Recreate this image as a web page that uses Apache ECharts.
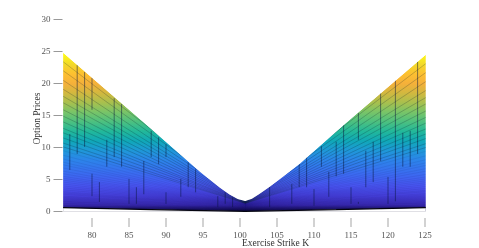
<!DOCTYPE html>
<html><head><meta charset="utf-8">
<style>html,body{margin:0;padding:0;background:#fff}#c{width:479px;height:248px}</style>
<script src="https://cdn.jsdelivr.net/npm/echarts@6/dist/echarts.min.js"></script>
</head><body><div id="c"></div>
<script>
const xTicks = [80,85,90,95,100,105,110,115,120,125];
const yTicks = [0,5,10,15,20,25,30];

// upper silhouette of the surface
const envelopeK = [76.1,81.1,87.2,94.6,97.3,98.6,99.7,100.7,101.6,102.7,104.05,106.1,108.1,114.2,125.1];
const envelopeV = [24.8,19.8,13.7,6.2,3.7,2.65,1.95,1.65,2.0,2.8,3.9,5.7,7.5,13.7,24.5];

// lower edge of the surface
const lowerK = [76.1,88,100.7,113,125.1];
const lowerV = [0.6,0.3,0.02,0.3,0.6];

// mesh curves, read at the left edge, the dip and the right edge
const meshK = [76.1,100.7,125.1];
const meshLeft = [23.4,22.0,20.5,19.1,18.0,17.0,15.9,14.9,14.0,13.0,12.3,11.5,10.7,10.1,9.5,8.8,8.2,7.7,7.3,6.8,6.3,5.9,5.5,5.2,4.9,4.6,4.3,4.0,3.7,3.4,3.1,2.9,2.7,2.4,2.2,2.0,1.8,1.6,1.5,1.3,1.2,1.0,0.9,0.7];
const meshDip = [1.6,1.58,1.55,1.52,1.5,1.48,1.45,1.42,1.4,1.37,1.35,1.32,1.3,1.27,1.25,1.22,1.2,1.17,1.15,1.12,1.1,1.07,1.05,1.02,1.0,.97,.94,.91,.88,.85,.82,.78,.74,.7,.66,.62,.57,.52,.47,.42,.36,.3,.22,.14];
const meshRight = [23.1,21.7,20.3,18.9,17.8,16.8,15.7,14.7,13.8,12.9,12.1,11.4,10.6,10.0,9.4,8.7,8.1,7.6,7.2,6.7,6.3,5.8,5.4,5.1,4.8,4.5,4.2,3.9,3.6,3.3,3.1,2.8,2.6,2.4,2.2,2.0,1.8,1.6,1.4,1.3,1.1,1.0,0.8,0.7];

// dark vertical mesh strokes: strike, low, high
const spikeK  = [77,78,79,80,80,81,82,83,84,85,86,87,88,89,90,90,92,93,94,97,98,99,104,107,108,109,110,111,112,113,114,115,116,116,117,118,119,120,121,122,123,124];
const spikeLo = [6.5,9.0,10.1,15.9,2.4,1.5,7.0,8.5,7.0,1.2,1.2,2.7,8.5,7.4,8.5,1.2,2.3,3.8,3.0,0.7,1.2,0.7,0.7,1.2,3.8,3.8,0.9,7.0,2.3,5.5,5.9,1.2,11.2,1.2,3.8,4.6,7.9,1.2,1.6,7.0,7.0,9.0];
const spikeHi = [12.1,22.9,21.8,20.9,5.9,4.6,11.2,17.7,16.8,5.1,3.8,7.9,12.6,11.6,10.5,3.0,5.1,7.7,6.6,2.4,3.0,2.2,3.8,4.3,7.4,8.5,3.5,10.2,6.2,10.9,13.5,3.8,15.4,1.5,9.5,10.9,18.5,5.4,20.5,12.3,12.6,23.4];

const labelFont = 'Liberation Serif';
const zip = (a,b) => a.map((v,i)=>[v,b[i]]);
const peak = 24.8;
const ramp = [[24.8,'#ffff14'],[23,'#f2d92a'],[21.5,'#fdc030'],[20,'#f5b03a'],[18.5,'#d2b83f'],[17,'#a8c04e'],[15.5,'#78c468'],[14,'#4cc080'],[12.5,'#22b89a'],[11,'#10a8b8'],[9.5,'#1f98d8'],[8,'#2c84ea'],[6,'#3a6cf0'],[4,'#4854f0'],[2.5,'#4640dc'],[1.0,'#3a2ab4'],[0.3,'#181060'],[0,'#0a0830']];
const surfaceFill = new echarts.graphic.LinearGradient(0,0,0,1,ramp.map(([v,color])=>({offset:1-v/peak,color})));

const lineBase = {type:'line',symbol:'none',silent:true,clip:true};
const series = [];
series.push({...lineBase,name:'surface',data:zip(envelopeK,envelopeV),lineStyle:{width:0},areaStyle:{color:surfaceFill,opacity:1,origin:'start'},z:1});
meshLeft.forEach((v,i)=>series.push({...lineBase,name:'mesh'+i,data:zip(meshK,[v,meshDip[i],meshRight[i]]),
  lineStyle:{width:0.7,color:i<14?'rgba(5,30,40,0.32)':(i<30?'rgba(5,5,60,0.1)':'rgba(5,5,50,0.1)')},z:2}));
series.push({type:'custom',name:'strokes',silent:true,z:3,clip:true,
  data:spikeK.map((k,i)=>[k,spikeLo[i],spikeHi[i]]),
  encode:{x:0,y:[1,2]},
  renderItem(params,api){
    const a=api.coord([api.value(0),api.value(1)]),b=api.coord([api.value(0),api.value(2)]);
    return {type:'line',shape:{x1:a[0],y1:a[1],x2:b[0],y2:b[1]},style:{stroke:'rgba(8,22,60,0.5)',lineWidth:1}};
  }});
series.push({...lineBase,name:'above',data:zip(envelopeK,envelopeV),lineStyle:{width:0},areaStyle:{color:'#fff',opacity:1,origin:'end'},z:4});
series.push({...lineBase,name:'below',data:zip(lowerK,lowerV),lineStyle:{width:1.2,color:'#050510'},areaStyle:{color:'#fff',opacity:1,origin:'start'},z:4});

const chart = echarts.init(document.getElementById('c'),null,{renderer:'canvas'});
chart.setOption({
  animation:false,
  backgroundColor:'#fff',
  grid:{left:55,width:377.4,top:19.5,height:192},
  xAxis:{type:'value',min:75,max:126,offset:15.5,splitLine:{show:false},axisLine:{show:false,onZero:false},
    axisTick:{show:true,inside:true,length:9,lineStyle:{color:'#c4c4c4',width:1.5},customValues:xTicks},
    axisLabel:{show:true,margin:4,fontFamily:labelFont,fontSize:9,color:'#555',customValues:xTicks}},
  yAxis:{type:'value',min:0,max:30,interval:5,offset:-7.5,splitLine:{show:false},axisLine:{show:false,onZero:false},
    axisTick:{show:true,length:9,lineStyle:{color:'#999',width:1},customValues:yTicks},
    axisLabel:{margin:12,fontFamily:labelFont,fontSize:9,color:'#555',customValues:yTicks}},
  series,
  graphic:[
    {type:'text',x:275.5,y:243,style:{text:'Exercise Strike K',font:'9.5px "Liberation Serif"',fill:'#333',textAlign:'center',textVerticalAlign:'middle'}},
    {type:'text',x:37,y:118.5,rotation:Math.PI/2,style:{text:'Option Prices',font:'9.5px "Liberation Serif"',fill:'#333',textAlign:'center',textVerticalAlign:'middle'}}
  ]
});
</script></body></html>
